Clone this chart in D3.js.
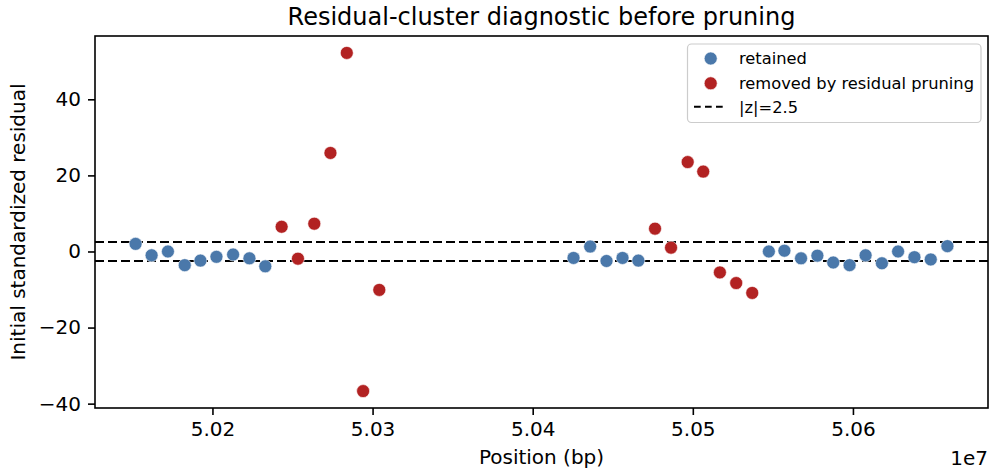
<!DOCTYPE html>
<html>
<head>
<meta charset="utf-8">
<script src="https://cdn.jsdelivr.net/npm/d3@7"></script>
<style>
  html, body { margin: 0; padding: 0; background: #fff; }
  svg { display: block; font-family: "DejaVu Sans", sans-serif; }
</style>
</head>
<body>
<svg id="chart" width="989" height="469"></svg>
<script>
// ---- data ----
const retainedPos = [
  50152000, 50162000, 50172200, 50182700, 50192500, 50202500, 50212900, 50223100, 50233000,
  50425500, 50435900, 50446100, 50456100, 50466000,
  50547500, 50557200, 50567600, 50577800, 50587700, 50597900, 50607900, 50618100, 50628200, 50638400, 50648600, 50659000
];
const retainedRes = [
  2.0, -1.0, 0.0, -3.6, -2.4, -1.4, -0.8, -1.8, -3.9,
  -1.7, 1.3, -2.5, -1.7, -2.4,
  0.0, 0.2, -1.8, -1.1, -2.9, -3.6, -1.0, -3.1, 0.0, -1.5, -2.1, 1.4
];
const removedPos = [
  50243200, 50253400, 50263600, 50273700, 50283900, 50294100, 50304200,
  50476400, 50486400, 50496800, 50506500, 50516900, 50527100, 50537100
];
const removedRes = [
  6.5, -1.9, 7.3, 25.9, 52.2, -36.7, -10.1,
  6.0, 1.0, 23.5, 21.0, -5.5, -8.3, -10.9
];
const zThreshold = 2.5;
const xTicks = [50200000, 50300000, 50400000, 50500000, 50600000];
const xTickLabels = ["5.02", "5.03", "5.04", "5.05", "5.06"];
const yTicks = [-40, -20, 0, 20, 40];
const legendLabels = ["retained", "removed by residual pruning", "|z|=2.5"];

const title = "Residual-cluster diagnostic before pruning";
const xLabel = "Position (bp)";
const yLabel = "Initial standardized residual";
const offsetLabel = "1e7";

const colRetained = "#4a78aa";
const colRemoved = "#b22222";

// ---- layout ----
const W = 989, H = 469;
const m = { left: 95, right: 1, top: 36, bottom: 61 };
const svg = d3.select("#chart");

const allX = retainedPos.concat(removedPos);
const allY = retainedRes.concat(removedRes);
const [x0, x1] = d3.extent(allX);
const [y0, y1] = d3.extent(allY);
const px = (x1 - x0) * 0.05, py = (y1 - y0) * 0.05;

const x = d3.scaleLinear().domain([x0 - px, x1 + px]).range([m.left, W - m.right]);
const y = d3.scaleLinear().domain([y0 - py, y1 + py]).range([H - m.bottom, m.top]);

// threshold lines
const g = svg.append("g");
[zThreshold, -zThreshold].forEach(v => {
  g.append("line")
    .attr("x1", m.left).attr("x2", W - m.right)
    .attr("y1", y(v)).attr("y2", y(v))
    .attr("stroke", "#000").attr("stroke-width", 2)
    .attr("stroke-dasharray", "9,4");
});

// points
const r = 6.5;
g.selectAll("circle.ret").data(retainedPos.map((p, i) => [p, retainedRes[i]]))
  .enter().append("circle").attr("class", "ret")
  .attr("cx", d => x(d[0])).attr("cy", d => y(d[1])).attr("r", r)
  .attr("fill", colRetained).attr("stroke", "#fff").attr("stroke-width", 0.6);
g.selectAll("circle.rem").data(removedPos.map((p, i) => [p, removedRes[i]]))
  .enter().append("circle").attr("class", "rem")
  .attr("cx", d => x(d[0])).attr("cy", d => y(d[1])).attr("r", r)
  .attr("fill", colRemoved).attr("stroke", "#fff").attr("stroke-width", 0.6);

// axes
const xAxis = d3.axisBottom(x).tickValues(xTicks)
  .tickFormat((d, i) => xTickLabels[i]).tickSize(7).tickPadding(7);
const yAxis = d3.axisLeft(y).tickValues(yTicks)
  .tickFormat(d => d < 0 ? "\u2212" + Math.abs(d) : String(d)).tickSize(7).tickPadding(7);

const gx = svg.append("g").attr("transform", `translate(0,${H - m.bottom})`).call(xAxis);
const gy = svg.append("g").attr("transform", `translate(${m.left},0)`).call(yAxis);
[gx, gy].forEach(a => {
  a.select(".domain").remove();
  a.selectAll(".tick line").attr("stroke", "#000").attr("stroke-width", 1.6);
  a.selectAll(".tick text").attr("fill", "#000").style("font-size", "20px")
    .style("font-family", "DejaVu Sans");
});

// spines
svg.append("rect")
  .attr("x", m.left).attr("y", m.top)
  .attr("width", W - m.right - m.left).attr("height", H - m.bottom - m.top)
  .attr("fill", "none").attr("stroke", "#000").attr("stroke-width", 1.6);

// title and labels
svg.append("text").attr("x", (m.left + W - m.right) / 2).attr("y", 25)
  .attr("text-anchor", "middle").style("font-size", "24px").attr("fill", "#000").text(title);
svg.append("text").attr("x", (m.left + W - m.right) / 2).attr("y", 464)
  .attr("text-anchor", "middle").style("font-size", "20px").attr("fill", "#000").text(xLabel);
svg.append("text").attr("x", 988).attr("y", 465)
  .attr("text-anchor", "end").style("font-size", "20px").attr("fill", "#000").text(offsetLabel);
svg.append("text")
  .attr("transform", `translate(25,${(m.top + H - m.bottom) / 2}) rotate(-90)`)
  .attr("text-anchor", "middle").style("font-size", "20px").attr("fill", "#000").text(yLabel);

// legend
const lg = svg.append("g");
lg.append("rect").attr("x", 687.5).attr("y", 44).attr("width", 293.5).attr("height", 78.5)
  .attr("rx", 4).attr("fill", "#fff").attr("fill-opacity", 0.8)
  .attr("stroke", "#cccccc").attr("stroke-width", 1.2);
const rows = [58.5, 83.3, 106.7];
lg.append("circle").attr("cx", 710.7).attr("cy", rows[0]).attr("r", r)
  .attr("fill", colRetained).attr("stroke", "#fff").attr("stroke-width", 0.6);
lg.append("circle").attr("cx", 710.7).attr("cy", rows[1]).attr("r", r)
  .attr("fill", colRemoved).attr("stroke", "#fff").attr("stroke-width", 0.6);
lg.append("line").attr("x1", 694).attr("x2", 723).attr("y1", rows[2]).attr("y2", rows[2])
  .attr("stroke", "#000").attr("stroke-width", 2).attr("stroke-dasharray", "6.7,4.3");
legendLabels.forEach((t, i) => {
  lg.append("text").attr("x", 739).attr("y", rows[i] + 5.8)
    .style("font-size", "16.3px").attr("fill", "#000").text(t);
});
</script>
</body>
</html>
